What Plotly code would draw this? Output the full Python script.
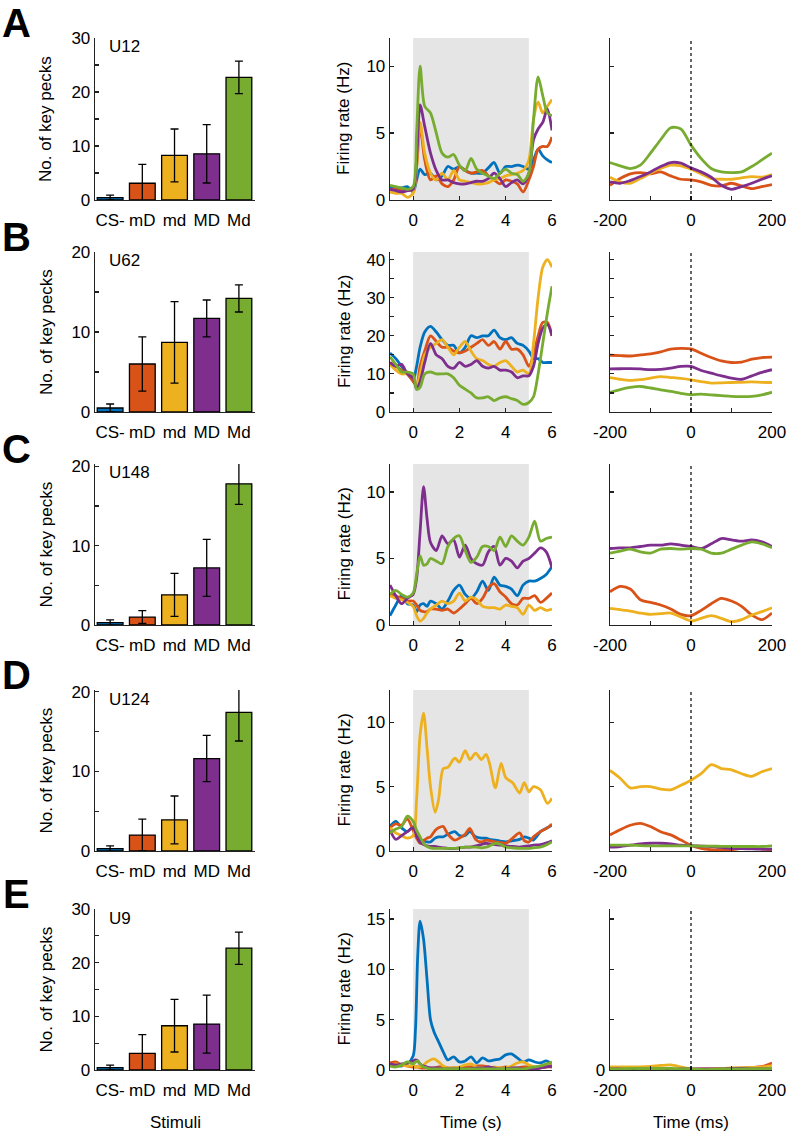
import plotly.graph_objects as go

W, H = 787, 1138
FONT = "Liberation Sans, Arial, sans-serif"
AX = "#222222"

# ---------------- data ----------------
stimuli = ["CS-", "mD", "md", "MD", "Md"]
colors = ["#0072BD", "#D95319", "#EDB120", "#7E2F8E", "#77AC30"]
units = ["U12", "U62", "U148", "U124", "U9"]
letters = ["A", "B", "C", "D", "E"]

pecks_A = [0.45, 3.1, 8.25, 8.55, 22.7]
err_A = [0.45, 3.5, 4.9, 5.4, 3.0]
pecks_B = [0.5, 6.0, 8.7, 11.7, 14.2]
err_B = [0.5, 3.4, 5.1, 2.3, 1.7]
pecks_C = [0.3, 1.0, 3.8, 7.2, 17.8]
err_C = [0.35, 0.8, 2.7, 3.6, 2.6]
pecks_D = [0.3, 2.0, 3.9, 11.6, 17.4]
err_D = [0.35, 2.0, 3.0, 2.9, 3.6]
pecks_E = [0.45, 3.1, 8.25, 8.55, 22.7]
err_E = [0.45, 3.5, 4.9, 5.4, 3.0]

# firing rate time courses (s)
t_A = [-1, -0.75, -0.5, -0.25, 0, 0.15, 0.3, 0.5, 0.75, 1, 1.25, 1.5, 1.75, 2, 2.25, 2.5, 2.75, 3,
       3.25, 3.5, 3.75, 4, 4.25, 4.5, 4.75, 5, 5.2, 5.4, 5.6, 5.8, 6]
A_blue = [1.0, 0.9, 0.9, 1.0, 0.6, 1.5, 2.3, 1.9, 2.0, 1.5, 1.8, 2.5, 2.3, 2.5, 2.2, 2.0, 2.0, 2.0,
          2.4, 2.8, 2.0, 2.5, 2.5, 2.6, 2.5, 2.3, 3.0, 3.8, 3.3, 3.0, 2.8]
A_orange = [0.8, 0.8, 0.7, 0.7, 0.8, 2.5, 5.5, 3.0, 1.5, 1.8, 1.2, 1.0, 1.5, 2.5, 2.2, 2.0, 2.1, 2.2,
            1.8, 1.5, 1.2, 1.5, 1.4, 1.2, 0.6, 1.5, 2.5, 3.8, 4.0, 4.0, 4.7]
A_yellow = [0.6, 0.5, 0.5, 0.2, 0.5, 2.5, 5.8, 3.5, 2.0, 1.5, 2.0, 1.5, 2.2, 1.5, 1.4, 1.3, 1.2, 1.2,
            1.3, 1.5, 1.6, 1.8, 1.9, 2.0, 2.2, 3.0, 6.0, 7.3, 6.5, 7.0, 7.5]
A_purple = [0.8, 0.7, 0.6, 0.7, 0.8, 3.0, 7.1, 5.5, 3.5, 2.2, 1.5, 1.5, 1.3, 1.2, 1.2, 1.3, 1.4, 1.4,
            1.6, 2.0, 1.6, 1.0, 1.3, 1.5, 1.2, 2.0, 4.5, 5.3, 5.8, 6.8, 5.2]
A_green = [1.1, 1.0, 0.9, 0.8, 1.0, 5.0, 10.0, 7.0, 6.5, 5.0, 3.5, 3.2, 3.4, 2.6, 2.2, 3.1, 2.3, 2.0,
           1.8, 1.6, 2.0, 2.3, 2.0, 1.9, 1.4, 2.0, 6.0, 9.2, 7.8, 6.5, 6.3]

t_B = t_A
B_blue = [15.5, 14.0, 12.0, 10.0, 8.5, 12.0, 17.0, 21.0, 22.5, 21.0, 19.0, 17.5, 17.5, 15.5, 17.0, 20.0,
          19.5, 20.0, 20.0, 21.5, 19.5, 19.0, 19.5, 18.0, 17.5, 16.0, 14.0, 14.0, 13.0, 13.0, 13.0]
B_orange = [13.0, 12.0, 11.0, 10.0, 8.0, 7.0, 12.0, 16.0, 20.0, 18.5, 17.0, 17.0, 16.0, 15.5, 16.0, 17.0,
            18.0, 19.0, 17.5, 18.5, 16.5, 18.5, 16.5, 16.5, 15.0, 12.0, 15.0, 20.0, 23.5, 23.5, 20.0]
B_yellow = [12.5, 11.0, 10.0, 10.0, 9.0, 7.0, 10.0, 15.0, 17.0, 18.0, 19.0, 17.0, 15.0, 17.0, 18.5, 16.0,
            14.0, 13.5, 12.5, 12.0, 13.0, 13.5, 12.0, 10.5, 11.0, 10.0, 18.0, 30.0, 38.0, 40.0, 38.0]
B_purple = [13.0, 12.0, 12.5, 10.0, 9.0, 6.0, 8.0, 13.0, 18.0, 15.0, 14.0, 12.0, 11.5, 13.0, 12.0, 12.5,
            13.5, 12.0, 11.5, 12.0, 11.0, 11.0, 10.5, 9.0, 9.5, 9.5, 12.0, 18.0, 22.0, 23.0, 20.0]
B_green = [14.5, 12.5, 10.5, 10.5, 10.0, 6.0, 6.5, 10.0, 10.5, 10.0, 10.0, 10.0, 9.0, 7.0, 6.0, 5.0,
           3.7, 3.7, 4.0, 3.0, 3.7, 4.0, 3.5, 3.0, 2.0, 2.5, 4.0, 10.0, 18.0, 26.0, 33.0]

t_C = [-1, -0.75, -0.5, -0.25, 0, 0.15, 0.3, 0.45, 0.6, 0.75, 1, 1.25, 1.5, 1.75, 2, 2.25, 2.5, 2.75,
       3, 3.25, 3.5, 3.75, 4, 4.25, 4.5, 4.75, 5, 5.25, 5.5, 5.75, 6]
C_blue = [0.7, 1.5, 2.2, 1.6, 1.5, 1.0, 1.5, 1.6, 1.4, 1.8, 1.6, 1.2, 1.8, 2.6, 3.0, 2.3, 2.0, 2.5,
          3.3, 2.6, 3.6, 3.0, 2.9, 2.7, 2.2, 3.0, 3.3, 3.3, 3.5, 3.8, 4.4]
C_orange = [2.3, 2.2, 2.0, 1.8, 1.8, 1.5, 1.1, 1.0, 1.0, 1.2, 1.2, 1.1, 1.2, 0.9, 1.2, 1.6, 2.0, 1.6,
            2.0, 2.8, 3.1, 2.5, 2.1, 1.6, 1.5, 2.0, 2.0, 2.2, 1.7, 2.0, 2.4]
C_yellow = [2.2, 2.0, 1.9, 1.7, 1.4, 0.7, 0.3, 0.5, 0.9, 1.2, 1.5, 1.8, 1.6, 1.8, 2.4, 1.8, 2.1, 1.9,
            1.4, 1.3, 1.3, 1.2, 1.5, 1.4, 1.3, 0.8, 1.5, 1.1, 1.3, 1.1, 1.2]
C_purple = [3.0, 2.2, 1.6, 2.0, 2.3, 3.5, 7.0, 10.4, 8.0, 6.2, 5.6, 6.7, 6.1, 6.4, 5.1, 6.0, 5.0, 4.6,
            4.5, 5.5, 5.9, 4.5, 5.0, 4.8, 4.3, 4.8, 5.0, 5.4, 5.8, 5.5, 4.3]
C_green = [2.3, 2.6, 2.3, 2.1, 2.4, 3.8, 5.2, 4.5, 4.6, 5.0, 4.8, 4.6, 5.9, 6.5, 6.7, 5.6, 4.7, 5.1,
           5.9, 5.9, 5.6, 6.6, 5.9, 6.7, 6.3, 6.0, 6.6, 7.8, 6.3, 6.5, 6.6]

t_D = [-1, -0.75, -0.5, -0.25, 0, 0.15, 0.3, 0.45, 0.6, 0.75, 0.95, 1.1, 1.3, 1.5, 1.8, 2.0, 2.25, 2.45,
       2.7, 2.95, 3.15, 3.3, 3.55, 3.8, 4.0, 4.3, 4.6, 4.8, 5.0, 5.2, 5.5, 5.8, 6.0]
D_blue = [1.9, 2.3, 1.8, 1.5, 1.9, 1.2, 0.85, 0.8, 0.7, 0.7, 1.0, 1.1, 1.1, 1.3, 1.5, 1.2, 1.2, 1.5,
          1.1, 1.0, 1.0, 0.9, 0.85, 0.75, 0.7, 0.8, 0.9, 1.1, 1.0, 0.85, 1.5, 1.8, 2.0]
D_orange = [1.8, 2.1, 2.0, 2.5, 1.6, 1.0, 0.6, 0.8, 1.0, 1.1, 1.6, 1.8, 1.9, 1.3, 0.85, 1.0, 1.3, 1.75,
            0.9, 0.7, 0.85, 0.8, 0.7, 0.65, 0.6, 1.0, 1.4, 0.8, 0.7, 1.1, 1.5, 1.8, 2.1]
D_yellow = [1.8, 1.4, 1.2, 1.0, 1.2, 4.0, 9.0, 10.7, 8.0, 5.0, 3.0, 4.0, 6.4, 6.5, 7.2, 6.9, 7.8, 7.1,
            7.6, 7.1, 7.5, 6.8, 4.9, 6.8, 5.7, 5.3, 4.5, 5.3, 4.6, 5.0, 4.75, 3.7, 4.1]
D_purple = [1.6, 0.9, 1.2, 1.5, 1.8, 1.2, 0.7, 0.5, 0.4, 0.35, 0.35, 0.3, 0.25, 0.2, 0.2, 0.25, 0.3, 0.3,
            0.4, 0.5, 0.6, 0.55, 0.5, 0.45, 0.4, 0.35, 0.3, 0.35, 0.4, 0.45, 0.5, 0.65, 0.8]
D_green = [1.4, 1.7, 1.9, 2.7, 2.3, 1.6, 1.1, 0.6, 0.35, 0.25, 0.2, 0.2, 0.2, 0.2, 0.2, 0.25, 0.3, 0.3,
           0.3, 0.25, 0.3, 0.4, 0.6, 0.5, 0.3, 0.25, 0.2, 0.2, 0.2, 0.25, 0.3, 0.5, 0.7]

t_E = [-1, -0.75, -0.5, -0.25, 0, 0.1, 0.2, 0.3, 0.45, 0.6, 0.75, 0.9, 1.1, 1.3, 1.5, 1.75, 2, 2.25,
       2.5, 2.75, 3, 3.25, 3.5, 3.75, 4, 4.25, 4.5, 4.75, 5, 5.25, 5.5, 5.75, 6]
E_blue = [0.6, 0.5, 0.4, 0.6, 1.4, 4.0, 11.5, 14.8, 13.0, 9.0, 5.0, 3.8, 2.8, 1.8, 1.0, 1.3, 0.8, 0.9,
          1.3, 0.7, 1.2, 0.9, 1.0, 1.1, 1.5, 1.6, 1.2, 0.8, 1.0, 0.8, 0.7, 0.9, 0.6]
E_orange = [0.7, 0.8, 0.5, 0.4, 0.3, 0.3, 0.3, 0.2, 0.2, 0.2, 0.2, 0.2, 0.3, 0.3, 0.2, 0.2, 0.2, 0.3,
            0.3, 0.4, 0.4, 0.3, 0.2, 0.2, 0.3, 0.2, 0.2, 0.3, 0.3, 0.2, 0.2, 0.3, 0.3]
E_yellow = [0.5, 0.6, 0.5, 0.4, 0.4, 0.3, 0.3, 0.3, 0.5, 0.8, 1.0, 1.1, 0.8, 0.4, 0.2, 0.2, 0.3, 0.5,
            0.6, 0.3, 0.2, 0.2, 0.3, 0.2, 0.2, 0.4, 0.7, 0.8, 0.5, 0.3, 0.4, 0.5, 0.6]
E_purple = [0.6, 0.5, 0.6, 0.7, 0.9, 1.0, 0.9, 0.6, 0.4, 0.3, 0.2, 0.2, 0.2, 0.1, 0.1, 0.1, 0.1, 0.1,
            0.1, 0.2, 0.2, 0.3, 0.2, 0.1, 0.1, 0.2, 0.2, 0.1, 0.1, 0.1, 0.2, 0.3, 0.4]
E_green = [0.4, 0.3, 0.5, 0.8, 0.6, 0.8, 0.9, 0.6, 0.3, 0.2, 0.1, 0.1, 0.1, 0.1, 0.1, 0.1, 0.1, 0.1,
           0.1, 0.1, 0.1, 0.1, 0.1, 0.1, 0.1, 0.1, 0.1, 0.1, 0.2, 0.3, 0.4, 0.6, 0.8]

# spike-triggered rate around key peck (ms)
lag = [-200, -175, -150, -125, -100, -75, -50, -25, 0, 25, 50, 75, 100, 125, 150, 175, 200]
LA_orange = [1.1, 1.6, 1.95, 2.05, 1.95, 2.1, 1.8, 1.55, 1.5, 1.35, 1.1, 1.05, 1.25, 1.05, 0.85, 1.0, 1.15]
LA_yellow = [1.7, 1.35, 1.25, 1.6, 2.0, 2.35, 2.6, 2.55, 2.3, 1.95, 1.6, 1.55, 1.55, 1.65, 1.75, 1.7, 1.9]
LA_purple = [1.35, 1.25, 1.45, 1.75, 2.1, 2.5, 2.8, 2.75, 2.4, 2.1, 1.7, 1.1, 0.8, 1.0, 1.25, 1.55, 1.8]
LA_green = [2.8, 2.55, 2.35, 2.6, 3.5, 4.5, 5.4, 5.3, 4.1, 3.1, 2.35, 2.1, 2.05, 2.1, 2.5, 3.0, 3.5]

LB_orange = [14.9, 14.8, 14.7, 15.0, 15.25, 15.8, 16.5, 16.7, 16.55, 15.4, 14.3, 13.4, 13.0, 13.1, 13.85, 14.3, 14.4]
LB_yellow = [9.05, 8.6, 8.3, 8.5, 8.9, 9.3, 9.05, 8.8, 8.45, 8.0, 7.6, 7.65, 7.75, 7.8, 7.9, 7.8, 7.75]
LB_purple = [11.3, 11.35, 11.4, 11.3, 11.1, 11.2, 11.5, 11.95, 11.95, 10.9, 10.2, 9.5, 8.9, 8.6, 9.5, 10.4, 11.1]
LB_green = [5.15, 5.9, 6.45, 6.7, 6.3, 5.8, 5.4, 4.9, 4.5, 4.7, 4.5, 4.3, 4.1, 4.05, 4.1, 4.5, 5.2]

LC_orange = [2.5, 2.9, 2.7, 1.9, 1.7, 1.5, 1.2, 0.8, 0.7, 1.1, 1.6, 2.0, 1.8, 1.4, 0.75, 0.4, 0.9]
LC_yellow = [1.25, 1.15, 1.05, 0.9, 0.8, 0.85, 0.9, 0.6, 0.3, 0.5, 0.7, 0.5, 0.25, 0.4, 0.75, 1.0, 1.3]
LC_purple = [5.75, 5.8, 5.8, 5.9, 6.0, 6.0, 6.1, 6.0, 5.9, 5.75, 6.1, 6.5, 6.4, 6.3, 6.4, 6.25, 5.9]
LC_green = [5.4, 5.55, 5.7, 5.5, 5.4, 5.7, 5.75, 5.7, 5.75, 5.7, 5.4, 5.4, 5.7, 6.0, 6.25, 6.1, 5.8]

LD_orange = [1.25, 1.65, 2.0, 2.15, 1.9, 1.5, 1.25, 0.85, 0.45, 0.2, 0.1, 0.1, 0.1, 0.2, 0.35, 0.15, 0.1]
LD_yellow = [6.25, 5.65, 4.9, 5.0, 5.0, 4.8, 4.75, 5.1, 5.5, 6.0, 6.7, 6.4, 6.3, 6.0, 5.8, 6.15, 6.4]
LD_purple = [0.3, 0.35, 0.45, 0.55, 0.6, 0.6, 0.55, 0.45, 0.4, 0.38, 0.35, 0.28, 0.2, 0.18, 0.16, 0.15, 0.15]
LD_green = [0.45, 0.45, 0.45, 0.42, 0.4, 0.4, 0.4, 0.4, 0.4, 0.38, 0.38, 0.36, 0.35, 0.35, 0.35, 0.35, 0.4]

LE_orange = [0.2, 0.2, 0.15, 0.1, 0.05, 0.05, 0.05, 0.05, 0.05, 0.1, 0.1, 0.1, 0.15, 0.2, 0.25, 0.35, 0.7]
LE_yellow = [0.3, 0.3, 0.3, 0.3, 0.35, 0.45, 0.5, 0.3, 0.1, 0.05, 0.1, 0.15, 0.2, 0.2, 0.25, 0.3, 0.4]
LE_purple = [0.1, 0.1, 0.05, 0.0, 0.0, 0.0, 0.05, 0.1, 0.1, 0.1, 0.1, 0.1, 0.15, 0.15, 0.1, 0.1, 0.1]
LE_green = [0.1, 0.1, 0.15, 0.15, 0.15, 0.15, 0.15, 0.1, 0.1, 0.05, 0.05, 0.1, 0.1, 0.1, 0.1, 0.1, 0.15]

bar_ranges = [30, 20, 20.3, 20.2, 30]
bar_ticks = [[0, 5, 10, 15, 20, 25, 30], [0, 5, 10, 15, 20], [0, 5, 10, 15, 20], [0, 5, 10, 15, 20],
             [0, 5, 10, 15, 20, 25, 30]]
rate_ranges = [12.1, 42, 12.1, 12.5, 16]
rate_ticks = [[0, 5, 10], [0, 5, 10, 15, 20, 25, 30, 35, 40], [0, 5, 10], [0, 5, 10], [0, 5, 10, 15]]

# ---------------- layout geometry (pixels) ----------------
row_top = [38, 252, 464, 690, 909]
row_bot = [200, 412, 625, 851, 1070]
col_x = [(95, 255), (390, 552), (610, 772)]


def fx(px):
    return px / W


def fy(py):
    return 1 - py / H


bars = [(pecks_A, err_A), (pecks_B, err_B), (pecks_C, err_C), (pecks_D, err_D), (pecks_E, err_E)]
rates = [(t_A, [A_blue, A_orange, A_yellow, A_purple, A_green]),
         (t_B, [B_blue, B_orange, B_yellow, B_purple, B_green]),
         (t_C, [C_blue, C_orange, C_yellow, C_purple, C_green]),
         (t_D, [D_blue, D_orange, D_yellow, D_purple, D_green]),
         (t_E, [E_blue, E_orange, E_yellow, E_purple, E_green])]
lagged = [[LA_orange, LA_yellow, LA_purple, LA_green],
          [LB_orange, LB_yellow, LB_purple, LB_green],
          [LC_orange, LC_yellow, LC_purple, LC_green],
          [LD_orange, LD_yellow, LD_purple, LD_green],
          [LE_orange, LE_yellow, LE_purple, LE_green]]

fig = go.Figure()
layout = dict(width=W, height=H, margin=dict(l=0, r=0, t=0, b=0, pad=0, autoexpand=False),
              paper_bgcolor="white", plot_bgcolor="rgba(0,0,0,0)", showlegend=False,
              font=dict(family=FONT, size=17, color="black"))
shapes = []
annotations = []

axis_common = dict(showline=True, linecolor=AX, linewidth=1.3, showgrid=False, zeroline=False,
                   ticks="inside", ticklen=4, tickwidth=1.2, tickcolor=AX, automargin=False,
                   tickfont=dict(family=FONT, size=17, color="black"))
xstand = dict(ticklabelstandoff=4)

for r in range(5):
    ydom = [fy(row_bot[r]), fy(row_top[r])]
    for c in range(3):
        idx = r * 3 + c + 1
        xa = "x" if idx == 1 else f"x{idx}"
        ya = "y" if idx == 1 else f"y{idx}"
        xkey = "xaxis" if idx == 1 else f"xaxis{idx}"
        ykey = "yaxis" if idx == 1 else f"yaxis{idx}"
        xdom = [fx(col_x[c][0]), fx(col_x[c][1])]
        if c == 0:
            vals, errs = bars[r]
            fig.add_trace(go.Bar(x=[1, 2, 3, 4, 5], y=vals, width=0.8, xaxis=xa, yaxis=ya,
                                 marker=dict(color=colors, line=dict(color="black", width=1.3)),
                                 error_y=dict(type="data", array=errs, color="black", thickness=1.3, width=4)))
            layout[xkey] = dict(axis_common, **xstand, domain=xdom, anchor=ya, range=[0.53, 5.5],
                                tickvals=[1, 2, 3, 4, 5], ticktext=stimuli, ticks="")
            tv = bar_ticks[r]
            layout[ykey] = dict(axis_common, domain=ydom, anchor=xa, range=[0, bar_ranges[r]],
                                tickvals=tv, ticktext=[str(v) if v % 10 == 0 else "" for v in tv])
        elif c == 1:
            t, series = rates[r]
            for s, col in zip(series, colors):
                fig.add_trace(go.Scatter(x=t, y=s, mode="lines", xaxis=xa, yaxis=ya,
                                         line=dict(color=col, width=2.8, shape="spline", smoothing=0.8)))
            layout[xkey] = dict(axis_common, **xstand, domain=xdom, anchor=ya, range=[-1, 6],
                                tickvals=[0, 2, 4, 6])
            tv = rate_ticks[r]
            layout[ykey] = dict(axis_common, domain=ydom, anchor=xa, range=[0, rate_ranges[r]],
                                tickvals=tv, ticktext=[str(v) if (r != 1 or v % 10 == 0) else "" for v in tv])
            shapes.append(dict(type="rect", xref=xa, yref=f"{ya} domain", x0=0, x1=5, y0=0, y1=1,
                               fillcolor="#e5e5e5", line=dict(width=0), layer="below"))
        else:
            for s, col in zip(lagged[r], colors[1:]):
                fig.add_trace(go.Scatter(x=lag, y=s, mode="lines", xaxis=xa, yaxis=ya,
                                         line=dict(color=col, width=2.8, shape="spline", smoothing=0.8)))
            layout[xkey] = dict(axis_common, **xstand, domain=xdom, anchor=ya, range=[-200, 200],
                                tickvals=[-200, -100, 0, 100, 200], ticktext=["-200", "", "0", "", "200"])
            tv = rate_ticks[r]
            layout[ykey] = dict(axis_common, domain=ydom, anchor=xa, range=[0, rate_ranges[r]],
                                tickvals=tv, ticktext=[("0" if (r == 4 and v == 0) else "") for v in tv])
            shapes.append(dict(type="line", xref=xa, yref=f"{ya} domain", x0=0, x1=0, y0=0, y1=1,
                               line=dict(color="black", width=1.2, dash="dot"), layer="above"))

    # panel letter
    annotations.append(dict(text=f"<b>{letters[r]}</b>", x=fx(16), y=fy(row_top[r] - 15), xref="paper",
                            yref="paper", showarrow=False, font=dict(family=FONT, size=40, color="black"),
                            xanchor="center", yanchor="middle"))
    # unit label
    annotations.append(dict(text=units[r], x=fx(107), y=fy(row_top[r] + 9), xref="paper", yref="paper",
                            showarrow=False, font=dict(family=FONT, size=17, color="black"),
                            xanchor="left", yanchor="middle"))
    ymid = fy((row_top[r] + row_bot[r]) / 2)
    annotations.append(dict(text="No. of key pecks", x=fx(46), y=ymid, xref="paper", yref="paper",
                            showarrow=False, textangle=-90, font=dict(family=FONT, size=17, color="black"),
                            xanchor="center", yanchor="middle"))
    annotations.append(dict(text="Firing rate (Hz)", x=fx(344), y=ymid, xref="paper", yref="paper",
                            showarrow=False, textangle=-90, font=dict(family=FONT, size=17, color="black"),
                            xanchor="center", yanchor="middle"))

for txt, cx in [("Stimuli", 175), ("Time (s)", 471), ("Time (ms)", 691)]:
    annotations.append(dict(text=txt, x=fx(cx), y=fy(1122), xref="paper", yref="paper", showarrow=False,
                            font=dict(family=FONT, size=17, color="black"), xanchor="center", yanchor="middle"))

layout["shapes"] = shapes
layout["annotations"] = annotations
fig.update_layout(**layout)
fig.write_html("out.html", config={"displayModeBar": False, "staticPlot": True},
               post_script="document.body.style.margin='0';document.body.style.padding='0';"
                           "document.body.style.overflow='hidden';")
